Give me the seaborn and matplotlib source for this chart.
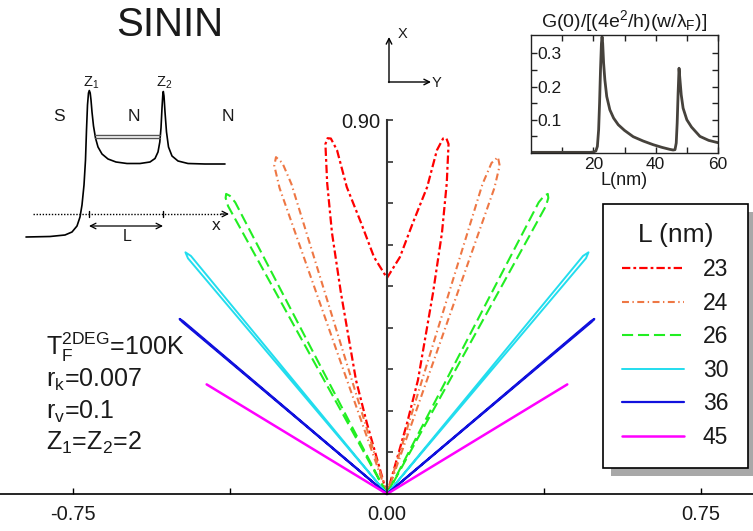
import numpy as np
import matplotlib
matplotlib.use('Agg')
import matplotlib.pyplot as plt
import seaborn as sns
from matplotlib.patches import Rectangle
from matplotlib.transforms import IdentityTransform

# ---------------- data ----------------
L_values = ['23', '24', '26', '30', '36', '45']
# right-hand half of each polar curve: angle from the vertical axis (deg), radius
ang_23 = [0.0, 3.1, 5.4, 7.4, 8.2, 8.9, 9.4, 9.9, 10.8, 11.8, 12.8, 15.1, 15.7, 16.0]
r_23 = [0.520, 0.571, 0.655, 0.745, 0.836, 0.866, 0.868, 0.855, 0.762, 0.642, 0.496, 0.284, 0.178, 0.0]
ang_24 = [17.0, 17.0, 17.4, 18.1, 18.8, 19.2, 19.2]
r_24 = [0.0, 0.78, 0.835, 0.853, 0.835, 0.78, 0.0]
ang_26 = [27.3, 27.3, 27.6, 28.0, 28.4, 28.7, 28.7]
r_26 = [0.0, 0.79, 0.81, 0.818, 0.81, 0.79, 0.0]
ang_30 = [39.25, 39.25, 39.6, 39.95, 39.95]
r_30 = [0.0, 0.74, 0.755, 0.74, 0.0]
ang_36 = [49.5, 49.5, 49.6, 49.7, 49.7]
r_36 = [0.0, 0.64, 0.65, 0.64, 0.0]
ang_45 = [58.5, 58.5]
r_45 = [0.0, 0.505]

xtick_vals = [-0.75, -0.375, 0.0, 0.375, 0.75]
xtick_labels = ['-0.75', '', '0.00', '', '0.75']
ytick_vals = [0.1, 0.2, 0.3, 0.4, 0.5, 0.6, 0.7, 0.8, 0.9]
ytick_labels = ['', '', '', '', '', '', '', '', '0.90']

# inset: G(0) versus L
inset_L = [0, 5, 10, 15, 19, 20, 20.8, 21.3, 21.7, 22.0, 22.3, 22.6, 22.8, 23.0, 23.3, 23.7,
           24.3, 25.3, 26.5, 28, 30, 32.8, 36, 39.2, 42, 44.5, 45.6, 46.2, 46.6, 46.9, 47.2,
           47.5, 47.8, 48.2, 48.8, 50, 51.5, 54.2, 57, 60]
inset_G = [0.002, 0.002, 0.002, 0.002, 0.002, 0.003, 0.006, 0.02, 0.07, 0.15, 0.25, 0.33,
           0.35, 0.33, 0.27, 0.22, 0.17, 0.13, 0.105, 0.085, 0.068, 0.049, 0.036, 0.025,
           0.017, 0.011, 0.009, 0.010, 0.03, 0.09, 0.18, 0.255, 0.22, 0.175, 0.135, 0.10,
           0.078, 0.05, 0.038, 0.031]
inset_xticks = [20, 40, 60]
inset_yticks = [0.1, 0.2, 0.3]
inset_ylabels = ['0.1', '0.2', '0.3']

# schematic potential profile (pixel coordinates of the drawing)
sk_x = [26, 50, 65, 72, 77, 80, 82, 84, 85.5, 86.5, 87.5, 88.5, 89.3, 90.2, 91, 92, 93.5, 95.5,
        98, 102, 108, 116, 127, 140, 150, 155, 158, 159.8, 161, 162, 162.8, 163.3, 164, 165,
        166.5, 168.5, 172, 178, 188, 205, 225]
sk_y = [237, 236.5, 235, 232, 226, 217, 205, 185, 160, 130, 105, 93, 90.5, 93, 100, 112, 126,
        138, 147, 154, 159, 162, 163.5, 163.5, 162, 158.5, 152, 142, 128, 108, 95, 91.5, 96,
        112, 132, 147, 156, 161, 163.5, 164, 164]
level_x = [95, 160]
level_y1 = [135, 135]
level_y2 = [137.5, 137.5]
xaxis_sk_x = [33, 223]
xaxis_sk_y = [214, 214]

# ---------------- style ----------------
sns.set_style('white')
plt.rcParams['font.family'] = ['Liberation Sans', 'DejaVu Sans']
plt.rcParams['mathtext.fontset'] = 'custom'
plt.rcParams['mathtext.rm'] = 'Liberation Sans'
plt.rcParams['mathtext.it'] = 'Liberation Sans:italic'
plt.rcParams['mathtext.bf'] = 'Liberation Sans:bold'
plt.rcParams['lines.scale_dashes'] = False
TXT = '#1a1a1a'

styles = {
    '23': dict(color='#FF0000', linestyle=(0, (6, 2.2, 2, 2.2)), lw=1.6),
    '24': dict(color='#EE7744', linestyle=(0, (5, 2.5, 1, 2.5)), lw=1.5),
    '26': dict(color='#22EE22', linestyle=(0, (8, 3.5)), lw=1.5),
    '30': dict(color='#22DDEE', linestyle='-', lw=1.4),
    '36': dict(color='#1111DD', linestyle='-', lw=1.6),
    '45': dict(color='#FF00FF', linestyle='-', lw=1.8),
}
curves = {'23': (ang_23, r_23), '24': (ang_24, r_24), '26': (ang_26, r_26),
          '30': (ang_30, r_30), '36': (ang_36, r_36), '45': (ang_45, r_45)}

W, H = 753, 531
fig = plt.figure(figsize=(W / 100, H / 100), dpi=100)
fig.patch.set_facecolor('white')

# ---------------- main axes ----------------
ax = fig.add_axes([0, 0, 1, 1])
ax.set_facecolor('none')


def full_curve(ang, r):
    a = np.asarray(ang, float)
    rr = np.asarray(r, float)
    a_full = np.concatenate([-a[::-1], a])
    r_full = np.concatenate([rr[::-1], rr])
    t = np.deg2rad(a_full)
    return r_full * np.sin(t), r_full * np.cos(t)


handles = []
for key in L_values:
    ang, r = curves[key]
    xs, ys = full_curve(ang, r)
    sns.lineplot(x=xs, y=ys, sort=False, estimator=None, ax=ax, label=key, legend=False,
                 **styles[key])
    handles.append(ax.lines[-1])

ax.set_xlim(-0.924, 0.874)
ax.set_ylim(-0.089, 1.189)
for s in ['top', 'right']:
    ax.spines[s].set_visible(False)
ax.spines['left'].set_position(('data', 0))
ax.spines['bottom'].set_position(('data', 0))
ax.spines['left'].set_bounds(0, 0.9)
ax.spines['left'].set_color('#333333')
ax.spines['left'].set_linewidth(1.5)
ax.spines['bottom'].set_color('black')
ax.spines['bottom'].set_linewidth(1.2)
ax.set_xticks(xtick_vals)
ax.set_xticklabels(xtick_labels)
ax.set_yticks(ytick_vals)
ax.set_yticklabels(ytick_labels)
ax.tick_params(axis='x', bottom=True, direction='in', length=4, width=1, pad=8,
               labelsize=14.5, labelcolor=TXT, color='black')
ax.tick_params(axis='y', left=True, direction='in', length=4, width=1.2, pad=5,
               labelsize=14.5, labelcolor=TXT, color='#333333')
ax.grid(False)

# ---------------- overlay for annotations (pixel coords) ----------------
sk = fig.add_axes([0, 0, 1, 1])
sk.set_xlim(0, W)
sk.set_ylim(H, 0)
sk.axis('off')
sk.patch.set_alpha(0)

sk.text(170, 36, 'SININ', fontsize=29, ha='center', va='baseline', color=TXT)

sk.plot(sk_x, sk_y, color='black', lw=1.2)
sk.plot(level_x, level_y1, color='#555555', lw=1.0)
sk.plot(level_x, level_y2, color='#555555', lw=1.0)
sk.plot(xaxis_sk_x, xaxis_sk_y, color='black', lw=1.0, linestyle=(0, (1, 1.2)))
sk.annotate('', xy=(229, 214), xytext=(221, 214),
            arrowprops=dict(arrowstyle='->', lw=0.9, color='black', shrinkA=0, shrinkB=0))
sk.plot([89, 89], [211, 217], color='black', lw=1)
sk.plot([163, 163], [211, 217], color='black', lw=1)
sk.annotate('', xy=(89, 226), xytext=(163, 226),
            arrowprops=dict(arrowstyle='<->', lw=0.9, color='black', shrinkA=0, shrinkB=0))
sk.text(127, 241, 'L', fontsize=11.5, ha='center', va='baseline', color=TXT)
sk.text(216, 230, 'x', fontsize=12.5, ha='center', va='baseline', color=TXT)
sk.text(59, 121, 'S', fontsize=12.5, ha='center', va='baseline', color=TXT)
sk.text(134, 121, 'N', fontsize=12.5, ha='center', va='baseline', color=TXT)
sk.text(228, 121, 'N', fontsize=12.5, ha='center', va='baseline', color=TXT)
sk.text(91, 87, r'Z$_\mathregular{1}$', fontsize=10.5, ha='center', va='baseline', color=TXT)
sk.text(164, 87, r'Z$_\mathregular{2}$', fontsize=10.5, ha='center', va='baseline', color=TXT)

# coordinate arrows
sk.annotate('', xy=(389, 37), xytext=(389, 82.5),
            arrowprops=dict(arrowstyle='->', lw=1.0, color='black', shrinkA=0, shrinkB=0))
sk.annotate('', xy=(431, 82), xytext=(388.5, 82),
            arrowprops=dict(arrowstyle='->', lw=1.0, color='black', shrinkA=0, shrinkB=0))
sk.text(403, 38, 'X', fontsize=10.5, ha='center', va='baseline', color=TXT)
sk.text(437, 87, 'Y', fontsize=10.5, ha='center', va='baseline', color=TXT)

# parameter text
sk.text(46, 355, r'T$_\mathregular{F}^\mathregular{2DEG}$=100K', fontsize=18, ha='left',
        va='baseline', color=TXT)
sk.text(46, 387, r'r$_\mathregular{k}$=0.007', fontsize=18, ha='left', va='baseline', color=TXT)
sk.text(46, 419, r'r$_\mathregular{v}$=0.1', fontsize=18, ha='left', va='baseline', color=TXT)
sk.text(46, 450, r'Z$_\mathregular{1}$=Z$_\mathregular{2}$=2', fontsize=18, ha='left',
        va='baseline', color=TXT)

# ---------------- inset ----------------
axi = fig.add_axes([531 / W, 1 - 153 / H, 187 / W, 118 / H])
axi.set_facecolor('white')
sns.lineplot(x=inset_L, y=inset_G, sort=False, estimator=None, ax=axi, color='#46423c', lw=2)
axi.set_xlim(0, 60)
axi.set_ylim(0, 0.355)
axi.set_xticks(inset_xticks)
axi.set_xticks([10, 30, 50], minor=True)
axi.set_yticks(inset_yticks)
axi.set_yticklabels(inset_ylabels)
axi.set_yticks([0.05, 0.15, 0.25], minor=True)
axi.tick_params(which='both', direction='in', top=True, right=True, bottom=True, left=True,
                length=4, width=1, color='#222222', labelsize=12.5, labelcolor=TXT)
axi.tick_params(axis='x', pad=3)
axi.tick_params(axis='y', pad=-4.5)
for t in axi.yaxis.get_major_ticks():
    t.label1.set_horizontalalignment('left')
for s in axi.spines.values():
    s.set_visible(True)
    s.set_color('#222222')
    s.set_linewidth(1.0)
axi.set_xlabel('L(nm)', fontsize=13, labelpad=0, color=TXT)
axi.set_ylabel('')
axi.set_title('G(0)/[(4e$^\\mathregular{2}$/h)(w/λ$_\\mathregular{F}$)]', fontsize=14, pad=6,
              color=TXT)
axi.grid(False)

# ---------------- legend ----------------
leg = fig.legend(handles=handles, labels=L_values, title='L (nm)', loc='upper left',
                 bbox_to_anchor=(603 / W, 1 - 204 / H), borderaxespad=0, fontsize=16.5,
                 title_fontsize=19, frameon=True, fancybox=False, edgecolor='black',
                 framealpha=1, borderpad=0.85, handlelength=2.7, handletextpad=0.8,
                 labelspacing=0.46)
leg.get_frame().set_linewidth(1.2)
for txt in leg.get_texts():
    txt.set_color(TXT)
leg.get_title().set_color(TXT)

fig.canvas.draw()
bb = leg.get_window_extent()
shadow = Rectangle((bb.x0 + 8, bb.y0 - 8), bb.width, bb.height, transform=IdentityTransform(),
                   facecolor='#A8A8A8', edgecolor='none', zorder=4.5)
fig.add_artist(shadow)

fig.savefig('out.png', dpi=100)
